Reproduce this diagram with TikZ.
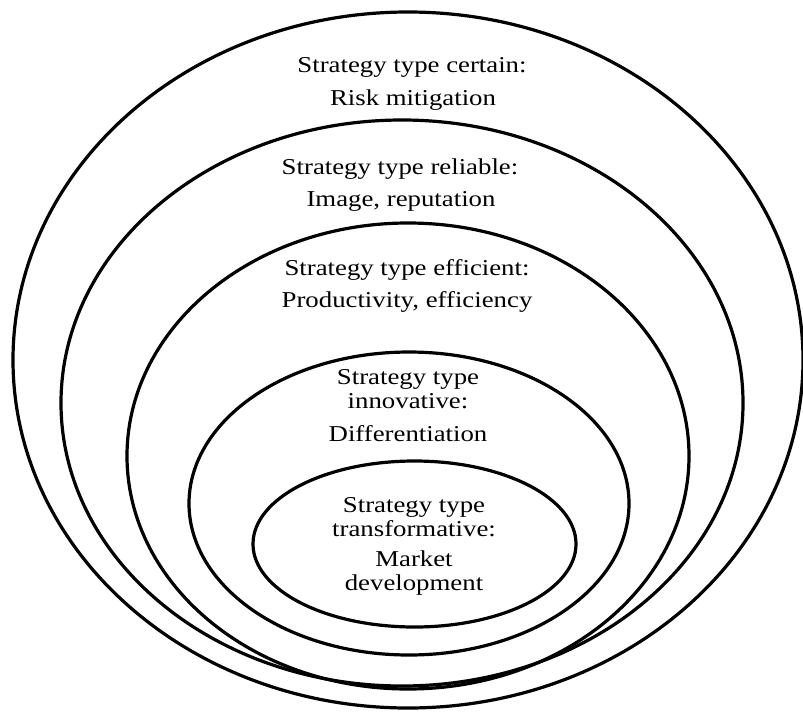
\documentclass[tikz,border=0pt]{standalone}
\usepackage{fontspec}
\setmainfont{Liberation Serif}[FakeStretch=1.18]
\begin{document}
\begin{tikzpicture}[x=1pt,y=-1pt,
  ring/.style={draw=black,line width=3.2pt},
  lbl/.style={font=\fontsize{22.7}{24}\selectfont,align=center,inner sep=0pt,text=black}]
\useasboundingbox[fill=white] (0,0) rectangle (803,713);
% ellipses (outer to inner)
\draw[ring] (408,360) ellipse [x radius=395pt, y radius=348pt];
\draw[ring] (402,403) ellipse [x radius=341pt, y radius=283pt];
\draw[ring] (408,456) ellipse [x radius=281pt, y radius=233pt];
\draw[ring] (409,503.5) ellipse [x radius=220pt, y radius=151.5pt];
\draw[ring] (414.5,544) ellipse [x radius=161.5pt, y radius=83pt];
% labels
\node[lbl] (t1) at (412,67) {Strategy type certain:};
\node[lbl] (s1) at (413,100) {Risk mitigation};
\node[lbl] (t2) at (400,169) {Strategy type reliable:};
\node[lbl] (s2) at (401,201) {Image, reputation};
\node[lbl] (t3) at (407,270) {Strategy type efficient:};
\node[lbl] (s3) at (407,302) {Productivity, efficiency};
\node[lbl] (t4) at (408,389) {Strategy type\\innovative:};
\node[lbl] (s4) at (408,434) {Differentiation};
\node[lbl] (t5) at (414,517) {Strategy type\\transformative:};
\node[lbl] (s5) at (414,573.5) {Market\\development};
\end{tikzpicture}
\end{document}
